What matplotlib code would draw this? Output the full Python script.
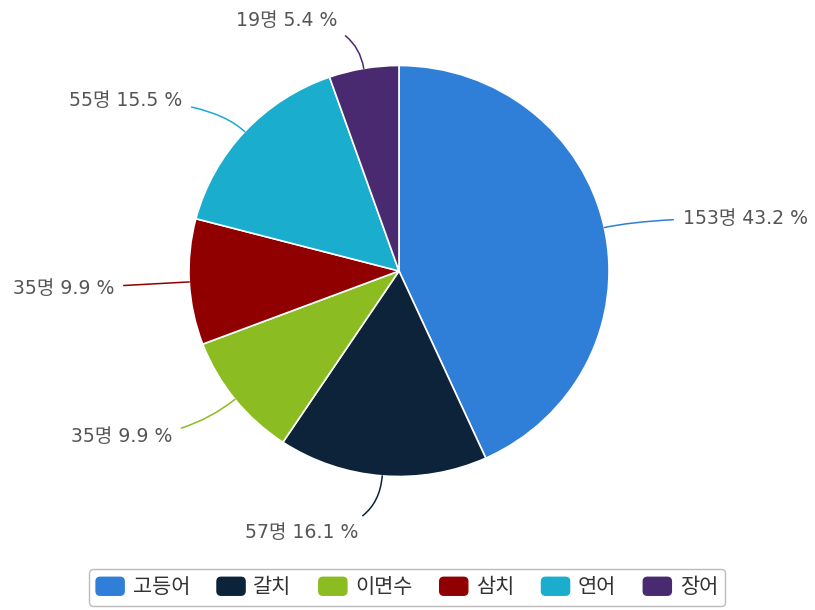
import numpy as np
import matplotlib.pyplot as plt
from matplotlib.patches import Patch, FancyBboxPatch
from matplotlib.legend_handler import HandlerPatch

plt.rcParams['font.family'] = ['DejaVu Sans', 'Noto Sans CJK KR']

names = ['고등어', '갈치', '이면수', '삼치', '연어', '장어']
counts = [153, 57, 35, 35, 55, 19]
colors = ['#2f7ed8', '#0d233a', '#8bbc21', '#910000', '#1aadce', '#492970']

# label text spots in pixels (x from left, y from top) and alignment
label_px = [(683, 218), (358, 532), (172, 437), (114, 289), (182, 101), (337, 20)]
label_ha = ['left', 'right', 'right', 'right', 'right', 'right']

sx = 1.022          # the original picture is a bit wider than tall
cx, cy, r = 399 / sx, 610 - 271, 205.5
total = sum(counts)

fig = plt.figure(figsize=(8.15, 6.1), dpi=100)
ax = fig.add_axes([0, 0, 1, 1])
ax.axis('off')

wedges, _ = ax.pie(counts, colors=colors, startangle=90, counterclock=False,
                   center=(cx, cy), radius=r,
                   wedgeprops=dict(edgecolor='white', linewidth=1.2))
ax.set_aspect('auto')
ax.set_xlim(0, 815 / sx)
ax.set_ylim(0, 610)

for w, v, (px, py), ha, c in zip(wedges, counts, label_px, label_ha, colors):
    mid = np.deg2rad((w.theta1 + w.theta2) / 2)
    ex = cx + r * np.cos(mid)
    ey = cy + r * np.sin(mid)
    txt = f"{v}명 {v / total * 100:.1f} %"
    ax.annotate(txt, xy=(ex, ey), xytext=(px / sx, 610 - py), ha=ha, va='center',
                fontsize=13.6, color='#555555',
                arrowprops=dict(arrowstyle='-', color=c, lw=1.1, shrinkA=5, shrinkB=0,
                                connectionstyle=f"angle3,angleA=0,angleB={np.rad2deg(mid):.1f}"))


def rounded_box(legend, orig_handle, xdescent, ydescent, width, height, fontsize):
    return FancyBboxPatch((-xdescent, -ydescent), width, height,
                          boxstyle='round,pad=0,rounding_size=3')


handles = [Patch(facecolor=c, edgecolor=c) for c in colors]
leg = fig.legend(handles, names, loc='center', bbox_to_anchor=(0.4994, 0.037), ncol=6,
                 frameon=True, fancybox=True, edgecolor='#aaaaaa',
                 handletextpad=0.4, columnspacing=1.3, borderpad=0.35,
                 handlelength=1.35, handleheight=0.95,
                 handler_map={Patch: HandlerPatch(patch_func=rounded_box)},
                 prop={'family': ['Noto Sans CJK KR', 'DejaVu Sans'], 'size': 15})
leg.get_frame().set_linewidth(1)
for t in leg.get_texts():
    t.set_color('#333333')

fig.savefig('out.png', dpi=100)
